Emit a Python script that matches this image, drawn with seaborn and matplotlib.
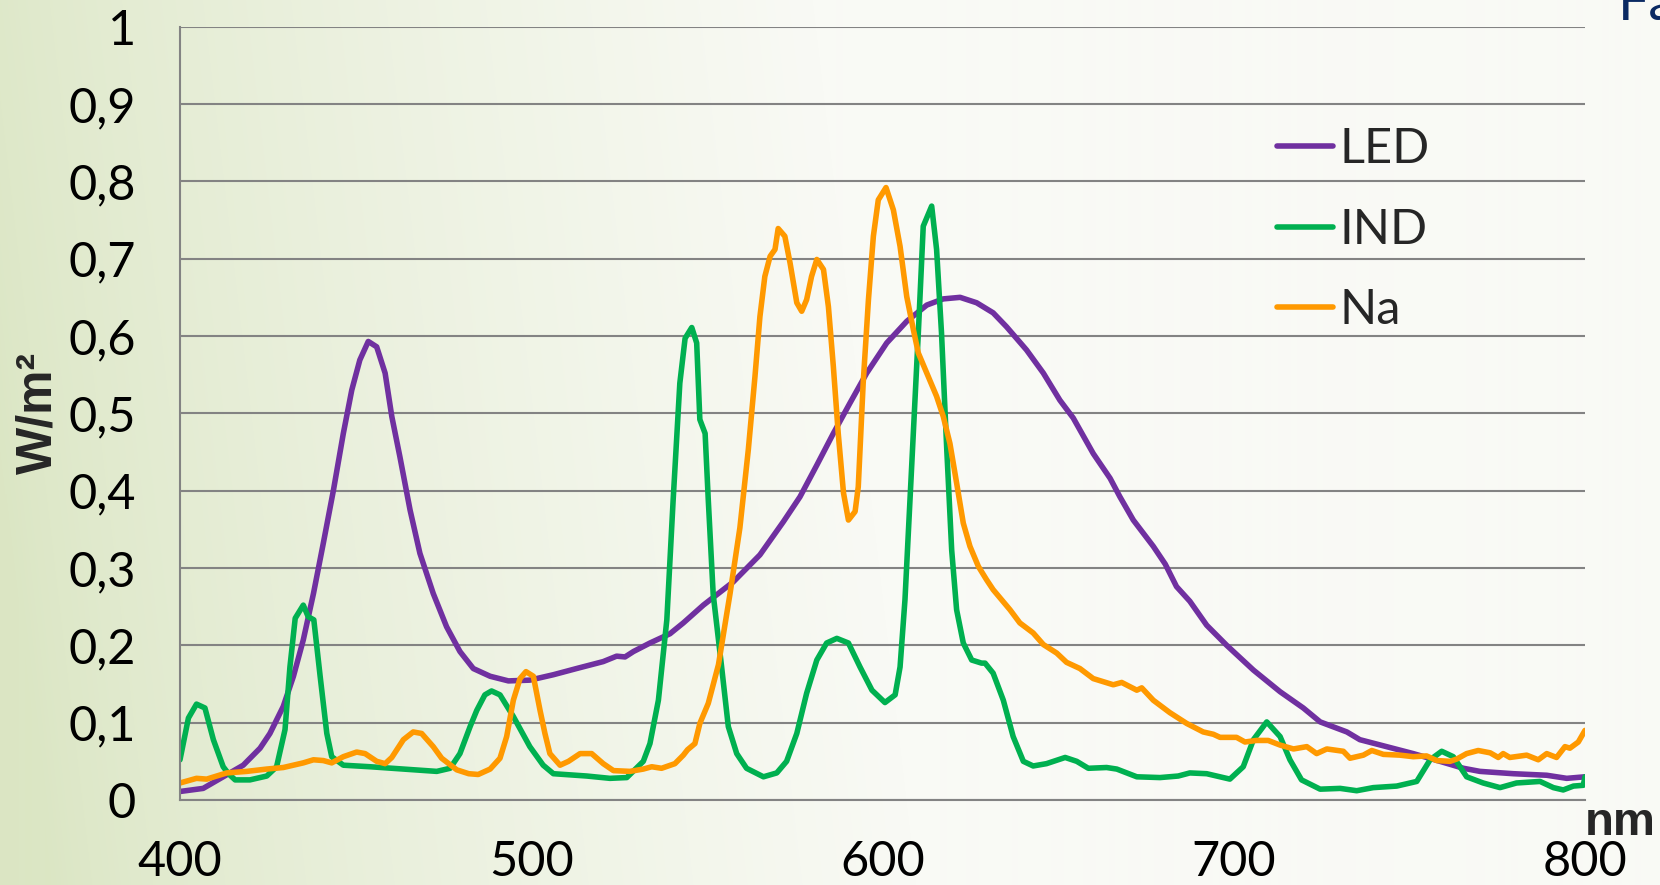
import numpy as np
import pandas as pd
import matplotlib
matplotlib.use("Agg")
import matplotlib.pyplot as plt
import seaborn as sns

# ---- spectral irradiance data (W/m² per wavelength, nm) ----
led_nm = [400, 406.6, 412.3, 418, 422.8, 425.6, 429.4, 432.3, 435.1, 438, 440.8, 443.7, 446.5,
          448.9, 451.2, 453.6, 456, 458.4, 460.3, 462.6, 465.5, 468.3, 472.1, 475.9, 479.7,
          483.5, 488.3, 493.5, 499.6, 506.3, 512.9, 520.5, 524.3, 526.7, 529.1, 533.8, 539.5,
          543.3, 549, 557.5, 565.1, 571.8, 576.5, 581.3, 586, 590.7, 595.5, 601.2, 606.9,
          612.6, 617.3, 622.1, 626.8, 631.5, 635.3, 641, 645.8, 650.5, 654.3, 660, 664.8,
          667.6, 671.4, 677.1, 680.5, 683.7, 687.5, 692.3, 698, 705.6, 713.2, 719.8, 724.6,
          732.2, 735.9, 743.5, 751.1, 758.7, 765.4, 770.1, 779.6, 789.1, 794.8, 800]
led_w = [0.011, 0.015, 0.030, 0.045, 0.067, 0.086, 0.121, 0.160, 0.207, 0.267, 0.332, 0.401, 0.474,
         0.530, 0.569, 0.593, 0.586, 0.552, 0.496, 0.444, 0.375, 0.319, 0.267, 0.224, 0.192,
         0.170, 0.160, 0.154, 0.155, 0.162, 0.170, 0.179, 0.186, 0.185, 0.192, 0.203, 0.215,
         0.229, 0.252, 0.282, 0.317, 0.360, 0.392, 0.433, 0.474, 0.513, 0.552, 0.591, 0.619,
         0.640, 0.648, 0.650, 0.643, 0.630, 0.612, 0.582, 0.552, 0.517, 0.494, 0.448, 0.416,
         0.392, 0.362, 0.328, 0.305, 0.276, 0.257, 0.226, 0.200, 0.168, 0.140, 0.119, 0.101,
         0.088, 0.078, 0.069, 0.060, 0.050, 0.041, 0.037, 0.034, 0.032, 0.028, 0.030]

ind_nm = [400, 402.4, 404.7, 407.1, 409.5, 412.3, 413.8, 415.7, 419.9, 424.7, 427.5, 429.9, 431.3,
          432.8, 435.1, 436.5, 438.1, 439.9, 441.8, 443.2, 446.5, 454.1, 463.6, 473.1, 476.9,
          479.7, 482.6, 484.5, 486.8, 488.7, 491.1, 494.9, 499.6, 503.4, 506.3, 515.8, 522.4,
          527.2, 531.9, 533.8, 536.2, 538.6, 540.4, 542.3, 543.8, 545.7, 547.1, 548.0, 549.5,
          550.4, 551.8, 554.2, 556.1, 558.5, 561.3, 566.1, 569.9, 572.7, 575.6, 578.4, 581.3,
          584.1, 587, 590.3, 593.6, 597, 600.7, 603.6, 605, 606.4, 608.3, 610.2, 611.6, 614,
          615.4, 616.8, 618.3, 619.7, 621.1, 623, 625.4, 628.2, 629.2, 631.5, 634.4, 637.2,
          640.1, 642.9, 646.7, 652, 655.3, 658.6, 663.8, 666.7, 672.4, 679, 684.2, 687.5, 692.3,
          698.9, 702.7, 705.6, 709.4, 713.2, 716, 719.3, 724.6, 730.3, 735, 739.7, 746.4, 752.1,
          755.9, 759.2, 762.5, 766.3, 771, 775.8, 780.5, 787.2, 791, 793.8, 796.7, 799.5, 800]
ind_w = [0.052, 0.106, 0.124, 0.119, 0.078, 0.043, 0.034, 0.026, 0.026, 0.031, 0.043, 0.091, 0.172,
         0.235, 0.252, 0.237, 0.233, 0.160, 0.086, 0.056, 0.045, 0.043, 0.040, 0.037, 0.041,
         0.060, 0.095, 0.116, 0.136, 0.141, 0.136, 0.108, 0.069, 0.045, 0.034, 0.031, 0.028,
         0.029, 0.050, 0.073, 0.129, 0.233, 0.388, 0.539, 0.597, 0.611, 0.591, 0.492, 0.474,
         0.388, 0.266, 0.172, 0.095, 0.060, 0.041, 0.030, 0.035, 0.050, 0.086, 0.138, 0.181,
         0.203, 0.209, 0.203, 0.172, 0.142, 0.126, 0.136, 0.172, 0.259, 0.431, 0.604, 0.742, 0.768,
         0.712, 0.604, 0.453, 0.323, 0.246, 0.203, 0.181, 0.177, 0.177, 0.164, 0.129, 0.082,
         0.050, 0.044, 0.047, 0.055, 0.050, 0.041, 0.042, 0.040, 0.030, 0.029, 0.031, 0.035, 0.034,
         0.027, 0.043, 0.078, 0.101, 0.082, 0.052, 0.026, 0.014, 0.015, 0.012, 0.016, 0.018, 0.024,
         0.052, 0.063, 0.056, 0.030, 0.022, 0.016, 0.022, 0.024, 0.016, 0.013, 0.018, 0.019, 0.030]

na_nm = [400, 404.7, 407.6, 413.3, 419, 424.7, 429.4, 435.1, 438, 440.8, 443.2, 446.5, 450.3,
         452.7, 456, 458.4, 460.3, 463.6, 466.4, 468.8, 472.1, 474.5, 478.8, 482.2, 484.9,
         488.3, 491.1, 493, 494.9, 496.8, 498.5, 500.6, 502.5, 503.9, 505.3, 508.2, 510.6,
         513.9, 517.2, 520.5, 523.4, 528.1, 531.9, 534.3, 537.1, 540.9, 543.3, 544.5, 546.6,
         548, 550.4, 553.3, 556.6, 559.4, 561.8, 563.7, 565.1, 566.5, 568, 569.4, 570.3, 572.2,
         573.7, 575.6, 577, 578.4, 579.8, 581.3, 583.2, 584.6, 586, 587.4, 588.9, 590.3, 592.2,
         593.1, 594.5, 596, 597.4, 598.8, 601, 603.1, 605, 606.9, 608.8, 610.2, 612.6, 615.4,
         617.3, 619.2, 621.1, 623, 624.9, 627.3, 629.6, 631.5, 636.3, 639.1, 642.9, 645.8,
         649.6, 652.4, 656.2, 660, 665.7, 668.1, 672.4, 673.8, 677.1, 681.8, 686.6, 691.3,
         694.2, 696.1, 700.8, 703.2, 706.5, 709.8, 713.2, 717, 720.8, 723.6, 726.5, 731.2,
         733.1, 736.9, 739.3, 742.6, 747.3, 751.1, 754.9, 757.8, 761.6, 763.5, 766.3, 769.6,
         773, 775.3, 776.7, 778.6, 783.4, 786.7, 789.1, 791.9, 794.3, 795.7, 798.1, 800]
na_w = [0.022, 0.028, 0.027, 0.035, 0.037, 0.040, 0.042, 0.048, 0.052, 0.051, 0.048, 0.056, 0.062,
        0.060, 0.050, 0.047, 0.055, 0.078, 0.088, 0.086, 0.069, 0.054, 0.039, 0.034, 0.033,
        0.040, 0.054, 0.082, 0.129, 0.157, 0.166, 0.160, 0.116, 0.086, 0.060, 0.045, 0.050,
        0.060, 0.060, 0.047, 0.038, 0.037, 0.040, 0.043, 0.041, 0.047, 0.058, 0.065, 0.073,
        0.099, 0.125, 0.175, 0.267, 0.352, 0.453, 0.548, 0.625, 0.677, 0.703, 0.712, 0.739, 0.729,
        0.694, 0.643, 0.632, 0.647, 0.677, 0.699, 0.686, 0.638, 0.561, 0.474, 0.397, 0.362, 0.373,
        0.405, 0.539, 0.647, 0.729, 0.776, 0.792, 0.763, 0.716, 0.651, 0.608, 0.578, 0.552, 0.522,
        0.496, 0.461, 0.410, 0.358, 0.328, 0.302, 0.285, 0.272, 0.246, 0.229, 0.216, 0.201,
        0.190, 0.178, 0.170, 0.157, 0.149, 0.152, 0.142, 0.145, 0.129, 0.113, 0.099, 0.088,
        0.085, 0.081, 0.081, 0.075, 0.077, 0.077, 0.071, 0.066, 0.069, 0.060, 0.066, 0.063,
        0.054, 0.058, 0.064, 0.059, 0.058, 0.056, 0.057, 0.051, 0.050, 0.053, 0.060, 0.064,
        0.061, 0.055, 0.060, 0.055, 0.058, 0.052, 0.060, 0.055, 0.069, 0.067, 0.075, 0.090]

series_names = ["LED", "IND", "Na"]
series_colors = ["#7030A0", "#00B050", "#FF9900"]

x_ticks = [400, 500, 600, 700, 800]
x_tick_labels = ["400", "500", "600", "700", "800"]
y_ticks = [0, 0.1, 0.2, 0.3, 0.4, 0.5, 0.6, 0.7, 0.8, 0.9, 1.0]
y_tick_labels = ["0", "0,1", "0,2", "0,3", "0,4", "0,5", "0,6", "0,7", "0,8", "0,9", "1"]

# ---- long-form table ----
df = pd.concat([
    pd.DataFrame({"nm": led_nm, "W": led_w, "serie": "LED"}),
    pd.DataFrame({"nm": ind_nm, "W": ind_w, "serie": "IND"}),
    pd.DataFrame({"nm": na_nm, "W": na_w, "serie": "Na"}),
], ignore_index=True)

sns.set_style("white")
plt.rcParams["font.family"] = ["Lato", "DejaVu Sans"]

GRID = "#838383"
fig = plt.figure(figsize=(16.6, 8.85), dpi=100)

# soft green-to-white slide background
bg = fig.add_axes([0, 0, 1, 1], zorder=0)
H, Wd = 885, 1660
yy, xx = np.mgrid[0:H, 0:Wd]
xf = xx / Wd
yf = yy / H
t = np.clip(xf / 0.52 + (0.5 - yf) * 0.12, 0, 1) ** 0.75
green = np.array([219, 230, 196]) / 255
white = np.array([249, 250, 245]) / 255
img = green[None, None, :] + (white - green)[None, None, :] * t[..., None]
bg.imshow(img, aspect="auto", extent=(0, 1, 0, 1))
bg.axis("off")

ax = fig.add_axes([0.10843, 0.09605, 0.84639, 0.87379], zorder=1)
ax.set_facecolor("none")

for name, col in zip(series_names, series_colors):
    sns.lineplot(data=df[df["serie"] == name], x="nm", y="W", color=col, label=name,
                 linewidth=4.0, estimator=None, sort=False, ax=ax,
                 solid_joinstyle="round", solid_capstyle="round")

ax.set_xlim(400, 800)
ax.set_ylim(0, 1)
ax.set_xticks(x_ticks)
ax.set_xticklabels(x_tick_labels)
ax.set_yticks(y_ticks)
ax.set_yticklabels(y_tick_labels)

ax.grid(axis="y", color=GRID, linewidth=1.5)
ax.grid(axis="x", visible=False)
ax.set_axisbelow(True)
for s in ["top", "right"]:
    ax.spines[s].set_visible(False)
for s in ["left", "bottom"]:
    ax.spines[s].set_color(GRID)
    ax.spines[s].set_linewidth(1.5)

ax.tick_params(axis="y", direction="out", length=11.5, width=1.5, color=GRID,
               labelsize=35, pad=20, labelcolor="black")
ax.tick_params(axis="x", direction="out", length=11.5, width=1.5, color=GRID,
               labelsize=35, pad=17.5, labelcolor="black")

ax.set_ylabel("W/m²", fontsize=36, fontweight="bold", family=["Liberation Sans", "DejaVu Sans"],
              va="center")
ax.yaxis.set_label_coords(-0.1005, 0.50)
ax.set_xlabel("nm", fontsize=34, fontweight="bold", family=["Liberation Sans", "DejaVu Sans"],
              ha="left", va="baseline")
ax.xaxis.set_label_coords(1.0, -0.045)

ax.legend(loc="upper left", bbox_to_anchor=(0.781, 0.870), frameon=False, fontsize=35,
          handlelength=1.15, handletextpad=0.12, labelspacing=0.75,
          borderpad=0, borderaxespad=0)

# slide title peeking in at the top edge
fig.text(1618 / 1660, 1 - 20 / 885, "Fa", color="#0b2a63", fontsize=40,
         ha="left", va="baseline")

fig.savefig("out.png", dpi=100)
